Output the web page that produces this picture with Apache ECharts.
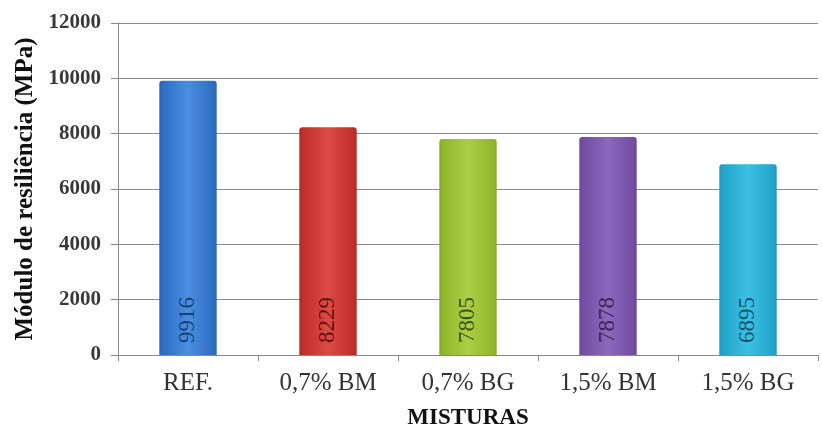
<!DOCTYPE html>
<html>
<head>
<meta charset="utf-8">
<script src="https://cdn.jsdelivr.net/npm/echarts@6/dist/echarts.min.js"></script>
<style>
  html, body { margin: 0; padding: 0; background: #fff; }
  #chart { width: 822px; height: 435px; }
</style>
</head>
<body>
<div id="chart"></div>
<script>
// Resilient modulus per mixture
const categories = ['REF.', '0,7% BM', '0,7% BG', '1,5% BM', '1,5% BG'];
const values = [9916, 8229, 7805, 7878, 6895];
const barColors = [
  ['#2f6fc4', '#4a8ee0', '#2c66b6'],
  ['#c0302c', '#dc4a44', '#b42a27'],
  ['#93b82e', '#aacf45', '#88ab2a'],
  ['#7450a4', '#8c67bb', '#6b4898'],
  ['#24a6cc', '#3cc0e2', '#2198bd']
];
const labelColors = ['#1b3f72', '#5a1412', '#3d5010', '#3a2556', '#13506a'];

const serif = '"Liberation Serif", "Times New Roman", serif';

const chart = echarts.init(document.getElementById('chart'));
chart.setOption({
  animation: false,
  grid: { left: 118, right: 4, top: 23, bottom: 77, containLabel: false },
  xAxis: {
    type: 'category',
    data: categories,
    name: 'MISTURAS',
    nameLocation: 'middle',
    nameGap: 52,
    nameTextStyle: { fontFamily: serif, fontSize: 23, fontWeight: 'bold', color: '#111' },
    axisLine: { lineStyle: { color: '#888', width: 1 } },
    axisTick: { show: true, length: 6, lineStyle: { color: '#888' } },
    axisLabel: { fontFamily: serif, fontSize: 25, color: '#333', margin: 16 }
  },
  yAxis: {
    type: 'value',
    min: 0,
    max: 12000,
    interval: 2000,
    name: 'Módulo de resiliência (MPa)',
    nameLocation: 'middle',
    nameGap: 80,
    nameTextStyle: { fontFamily: serif, fontSize: 25, fontWeight: 'bold', color: '#111' },
    axisLine: { show: true, lineStyle: { color: '#888', width: 1 } },
    axisTick: { show: true, length: 7, lineStyle: { color: '#888' } },
    axisLabel: {
      fontFamily: serif, fontSize: 21, fontWeight: 'bold', color: '#3a3a3a', margin: 17,
      formatter: v => String(v)
    },
    splitLine: { show: true, lineStyle: { color: '#8a8a8a', width: 1 } }
  },
  series: [{
    type: 'bar',
    barWidth: '41%',
    data: values.map((v, i) => ({
      value: v,
      itemStyle: {
        color: new echarts.graphic.LinearGradient(0, 0, 1, 0, [
          { offset: 0, color: barColors[i][2] },
          { offset: 0.08, color: barColors[i][0] },
          { offset: 0.5, color: barColors[i][1] },
          { offset: 0.92, color: barColors[i][0] },
          { offset: 1, color: barColors[i][2] }
        ]),
        borderRadius: [3, 3, 0, 0]
      },
      label: { color: labelColors[i] }
    })),
    label: {
      show: true,
      position: 'insideBottom',
      rotate: 90,
      align: 'left',
      verticalAlign: 'middle',
      distance: 12,
      fontFamily: serif,
      fontSize: 23,
      formatter: p => String(p.value)
    }
  }]
});
</script>
</body>
</html>
